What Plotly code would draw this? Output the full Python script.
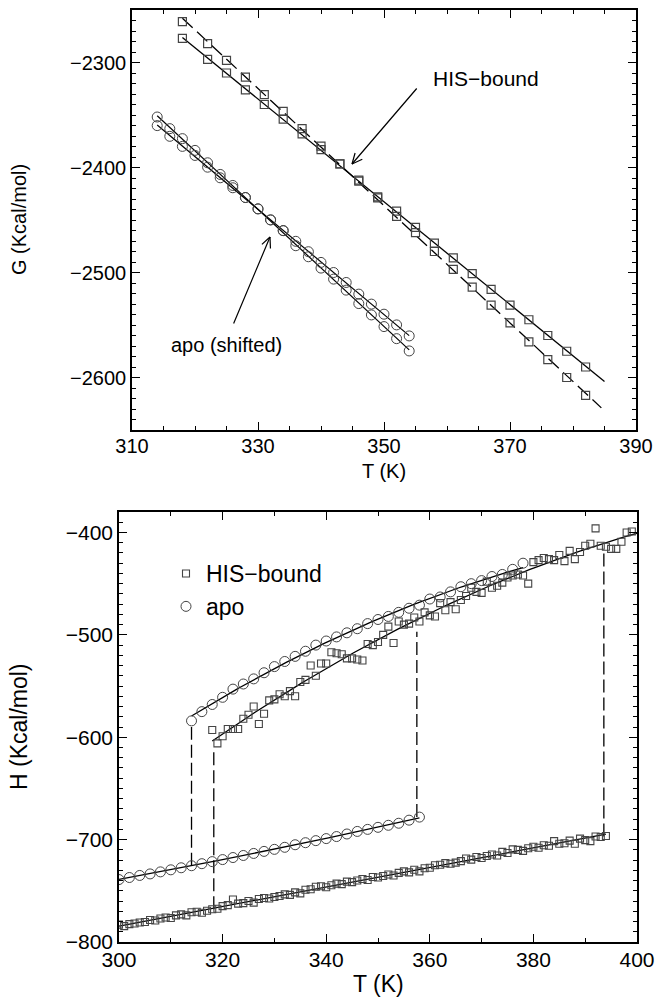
import numpy as np
import plotly.graph_objects as go

# ---------------- Top panel data (G vs T) ----------------
his_T_top = [318, 322, 325, 328, 331, 334, 337, 340, 343, 346, 349,
             352, 355, 358, 361, 364, 367, 370, 373, 376, 379, 382]
his_G_solid = [-2277, -2297, -2310, -2326, -2340, -2354, -2368, -2383, -2396.5, -2413, -2428,
               -2441.6, -2457, -2472, -2486, -2501, -2516, -2531, -2545, -2560, -2575, -2590]
his_G_dashed = [-2261, -2282, -2298, -2314, -2330.5, -2346.5, -2363, -2379.6, -2396.5, -2412, -2429,
                -2446.5, -2462, -2480, -2497, -2514, -2531, -2548, -2566, -2583, -2600, -2617]

apo_T_top = [314, 316, 318, 320, 322, 324, 326, 328, 330, 332, 334,
             336, 338, 340, 342, 344, 346, 348, 350, 352, 354]
apo_G_a = [-2351.9, -2363.0, -2372.5, -2383.7, -2395.5, -2406.6, -2417.1, -2428.6, -2439.4, -2449.9, -2460.1,
           -2474.5, -2485.0, -2495.8, -2506.3, -2516.8, -2529.6, -2540.4, -2551.5, -2563.0, -2574.7]
apo_G_b = [-2360.1, -2370.3, -2379.9, -2388.5, -2399.7, -2409.8, -2419.3, -2428.6, -2439.4, -2449.9, -2460.1,
           -2470.3, -2480.2, -2490.4, -2500.0, -2509.5, -2520.6, -2530.1, -2539.7, -2549.9, -2560.4]

# ---------------- Bottom panel data (H vs T) ----------------
apo_low_T = list(range(300, 360, 2))
apo_low_H = [-739, -737, -735, -733.5, -731.5, -729.5, -727.5, -725.5, -723.5, -721.5,
             -719.5, -717.5, -715.5, -713.5, -711.5, -709.5, -707.5, -705, -703, -701,
             -699, -697, -694.5, -692, -690, -688, -686, -684, -681, -678]

apo_high_T = list(range(314, 380, 2))
apo_high_H = [-584, -575, -568, -561, -553, -548, -543, -537, -531, -526, -521,
              -516, -510, -506, -502, -498, -494, -489, -485, -482, -478, -474,
              -471, -465, -463, -458, -453, -450, -447, -443, -441, -436, -430]

his_low_T = list(range(300, 395))
his_low_H = [-783, -784.5, -782.5, -782, -781, -780.5, -778.5, -779, -777, -776,
             -776.5, -774, -773, -774, -771, -770.5, -771.5, -769.5, -768, -767.5,
             -765, -764, -758.5, -762.5, -762, -760, -761.5, -758, -757, -757.5,
             -756, -755, -753.5, -754, -751.5, -752.5, -749, -748.5, -746, -745.5,
             -746.5, -744.5, -743, -743.5, -741, -741.5, -740, -738.5, -739.5, -736.5,
             -737, -735.5, -734, -735, -732.5, -731, -732, -729.5, -731, -728,
             -727.5, -725, -724.5, -723, -723.5, -722.5, -721, -718.5, -719.5, -717,
             -718, -716, -714.5, -715.5, -712, -713, -709.5, -710, -711, -708.5,
             -707, -708, -705.5, -706, -701.5, -704, -703.5, -701, -704, -699,
             -700.5, -701.5, -697, -697.5, -696.5]

his_high_T = list(range(318, 400))
his_high_H = [-593, -606, -599, -592, -592, -592, -582, -578, -570, -587,
              -577, -564, -563, -558, -560, -555, -560, -546, -544, -530,
              -540, -528, -528, -517, -518, -519, -523, -523, -524, -525,
              -509, -510, -507, -500, -492, -508, -487, -490, -489, -483,
              -487, -478, -481, -482, -469, -476, -468, -475, -466, -462,
              -454, -458, -459, -448, -454, -452, -449, -444, -442, -441,
              -442, -450, -429, -427, -425, -426, -427, -422, -428, -418,
              -426, -419, -413, -411, -396, -413, -414, -416, -416, -409,
              -400, -399]

# transitions (dashed verticals): temperature, lower H, upper H
apo_jump_T = [314, 357.5]
apo_jump_low = [-725.5, -678]
apo_jump_high = [-590, -497]
his_jump_T = [318.3, 393.6]
his_jump_low = [-768, -697]
his_jump_high = [-612, -417]

FONT = "Liberation Sans, Arial, Helvetica, sans-serif"
MK = "#444444"
W, H = 665, 1001

fig = go.Figure()


def fit_curve(T, Y, deg, t0, t1):
    c = np.polyfit(T, Y, deg)
    tt = np.linspace(t0, t1, 120)
    return tt, np.polyval(c, tt)


# ---- top panel ----
tt, yy = fit_curve(his_T_top, his_G_solid, 1, his_T_top[0], 385)
fig.add_trace(go.Scatter(x=tt, y=yy, mode="lines", line=dict(color="black", width=1.3),
                         showlegend=False, xaxis="x", yaxis="y"))
tt, yy = fit_curve(his_T_top, his_G_dashed, 1, his_T_top[0], 384.5)
fig.add_trace(go.Scatter(x=tt, y=yy, mode="lines",
                         line=dict(color="black", width=1.3, dash="14px,6px"),
                         showlegend=False, xaxis="x", yaxis="y"))
for G in (apo_G_a, apo_G_b):
    tt, yy = fit_curve(apo_T_top, G, 1, apo_T_top[0], apo_T_top[-1])
    fig.add_trace(go.Scatter(x=tt, y=yy, mode="lines", line=dict(color="black", width=1.2),
                             showlegend=False, xaxis="x", yaxis="y"))
for G in (his_G_solid, his_G_dashed):
    fig.add_trace(go.Scatter(x=his_T_top, y=G, mode="markers",
                             marker=dict(symbol="square-open", size=8, color=MK, line=dict(width=1.2)),
                             showlegend=False, xaxis="x", yaxis="y"))
for G in (apo_G_a, apo_G_b):
    fig.add_trace(go.Scatter(x=apo_T_top, y=G, mode="markers",
                             marker=dict(symbol="circle-open", size=10, color=MK, line=dict(width=1)),
                             showlegend=False, xaxis="x", yaxis="y"))

# ---- bottom panel ----
for Tj, lo, hi in ((apo_jump_T, apo_jump_low, apo_jump_high), (his_jump_T, his_jump_low, his_jump_high)):
    for t, a, b in zip(Tj, lo, hi):
        fig.add_trace(go.Scatter(x=[t, t], y=[a, b], mode="lines",
                                 line=dict(color="black", width=1.3, dash="13px,5px"),
                                 showlegend=False, xaxis="x2", yaxis="y2"))

for T, Y, deg in ((apo_low_T, apo_low_H, 2), (apo_high_T, apo_high_H, 2),
                  (his_low_T, his_low_H, 1), (his_high_T, his_high_H, 2)):
    tt, yy = fit_curve(T, Y, deg, T[0], T[-1] + (1 if T is his_high_T else 0))
    fig.add_trace(go.Scatter(x=tt, y=yy, mode="lines", line=dict(color="black", width=1.3),
                             showlegend=False, xaxis="x2", yaxis="y2"))

fig.add_trace(go.Scatter(x=his_low_T, y=his_low_H, mode="markers", name="HIS\u2212bound",
                         legendgroup="his",
                         marker=dict(symbol="square-open", size=7, color=MK, line=dict(width=1.1)),
                         showlegend=True, xaxis="x2", yaxis="y2"))
fig.add_trace(go.Scatter(x=his_high_T, y=his_high_H, mode="markers", name="HIS\u2212bound",
                         legendgroup="his",
                         marker=dict(symbol="square-open", size=7, color=MK, line=dict(width=1.1)),
                         showlegend=False, xaxis="x2", yaxis="y2"))
fig.add_trace(go.Scatter(x=apo_low_T, y=apo_low_H, mode="markers", name="apo",
                         legendgroup="apo",
                         marker=dict(symbol="circle-open", size=10, color=MK, line=dict(width=1)),
                         showlegend=True, xaxis="x2", yaxis="y2"))
fig.add_trace(go.Scatter(x=apo_high_T, y=apo_high_H, mode="markers", name="apo",
                         legendgroup="apo",
                         marker=dict(symbol="circle-open", size=10, color=MK, line=dict(width=1)),
                         showlegend=False, xaxis="x2", yaxis="y2"))


def ax_style(rng, dtick, tick0, minor_dtick, domain, anchor, standoff, fsize):
    return dict(range=rng, domain=domain, anchor=anchor, dtick=dtick, tick0=tick0,
                ticks="inside", ticklen=8, tickwidth=1.3, tickcolor="black",
                showline=True, linecolor="black", linewidth=1.6, mirror="ticks",
                showgrid=False, zeroline=False, automargin=False,
                tickfont=dict(family=FONT, size=fsize, color="black"),
                ticklabelstandoff=standoff,
                minor=dict(dtick=minor_dtick, tick0=tick0, ticks="inside", ticklen=4.5,
                           tickwidth=1.1, tickcolor="black", showgrid=False))


def px2x(p):
    return p / W


def px2y(p):
    return 1 - p / H


fig.update_layout(
    width=W, height=H,
    margin=dict(l=0, r=0, t=0, b=0),
    paper_bgcolor="white", plot_bgcolor="white",
    font=dict(family=FONT, color="black"),
    xaxis=ax_style([310, 390], 20, 310, 5, [px2x(132), px2x(636)], "y", -3, 20),
    yaxis=ax_style([-2650, -2250], 100, -2300, 10, [px2y(430), px2y(10)], "x", 0, 20),
    xaxis2=ax_style([300, 400], 20, 300, 10, [px2x(119), px2x(637)], "y2", -2, 21),
    yaxis2=ax_style([-800, -380], 100, -800, 10, [px2y(942), px2y(512)], "x2", 0, 21),
    legend=dict(x=px2x(166), y=px2y(552), xanchor="left", yanchor="top",
                font=dict(family=FONT, size=23, color="black"),
                bgcolor="rgba(0,0,0,0)", itemwidth=30, tracegroupgap=0),
)

ann = []
C = dict(xref="paper", yref="paper", xanchor="center", yanchor="middle", showarrow=False)
# axis titles
ann.append(dict(x=px2x(384), y=px2y(471), text="T (K)", font=dict(size=20), **C))
ann.append(dict(x=px2x(19), y=px2y(220), text="G (Kcal/mol)", textangle=-90, font=dict(size=20), **C))
ann.append(dict(x=px2x(378), y=px2y(984), text="T (K)", font=dict(size=23), **C))
ann.append(dict(x=px2x(19), y=px2y(727), text="H (Kcal/mol)", textangle=-90, font=dict(size=23), **C))
# labels
ann.append(dict(x=px2x(486), y=px2y(79), text="HIS\u2212bound", font=dict(size=21), **C))
ann.append(dict(x=px2x(226), y=px2y(345), text="apo (shifted)", font=dict(size=20), **C))
# arrows: shaft + two barbs (pixel offsets from head)
for head, parts in (((352, 164), [(66, -77), (11.8, -5.4), (3.5, -12.5)]),
                    ((270, 237), [(-37, 88), (-9.6, 8.7), (0.5, 13)])):
    for dx, dy in parts:
        ann.append(dict(x=px2x(head[0]), y=px2y(head[1]), xref="paper", yref="paper",
                        text="", showarrow=True, arrowhead=0, arrowwidth=1.2, arrowcolor="black",
                        ax=dx, ay=dy, standoff=0, startstandoff=0))
fig.update_layout(annotations=ann)

fig.write_html("out.html", config={"displayModeBar": False},
               post_script="document.body.style.margin='0';document.body.style.padding='0';")
